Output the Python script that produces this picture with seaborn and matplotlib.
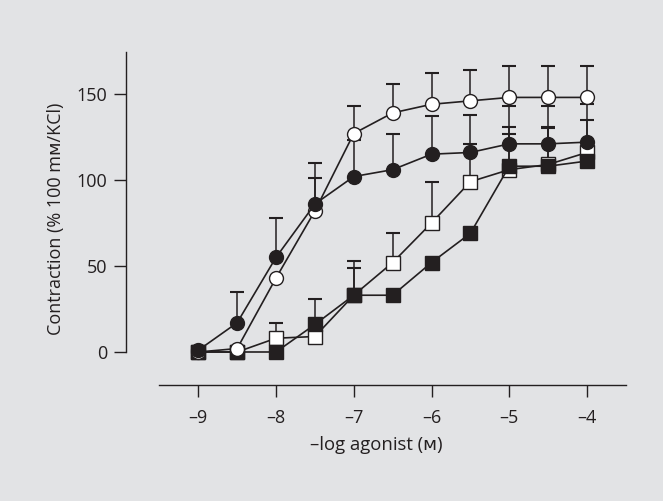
import matplotlib
matplotlib.use('Agg')
import matplotlib.pyplot as plt
import pandas as pd
import seaborn as sns

# Dados
log_conc = [-9, -8.5, -8, -7.5, -7, -6.5, -6, -5.5, -5, -4.5, -4]

open_circle = [0, 2, 43, 82, 127, 139, 144, 146, 148, 148, 148]
open_circle_err = [0, 0, 0, 19, 16, 17, 18, 18, 18, 18, 18]

filled_circle = [1, 17, 55, 86, 102, 106, 115, 116, 121, 121, 122]
filled_circle_err = [0, 18, 23, 24, 21, 21, 22, 22, 22, 22, 22]

open_square = [0, 0, 8, 9, 33, 52, 75, 99, 106, 109, 116]
open_square_err = [0, 0, 9, 0, 20, 17, 24, 22, 25, 22, 19]

filled_square = [0, 0, 0, 16, 33, 33, 52, 69, 108, 108, 111]
filled_square_err = [0, 0, 0, 15, 16, 0, 0, 0, 19, 22, 0]

bg = '#e2e3e5'
ink = '#231f20'

sns.set_style('ticks')
plt.rcParams['font.family'] = ['Open Sans', 'DejaVu Sans']

fig = plt.figure(figsize=(6.63, 5.01), dpi=100, facecolor=bg)
ax = fig.add_axes([0.190, 0.2315, 0.754, 0.6647])
ax.set_facecolor(bg)

# ordem de desenho: quadrado aberto, quadrado cheio, círculo aberto, círculo cheio
series = [
    (open_square, open_square_err, 's', 'white'),
    (filled_square, filled_square_err, 's', ink),
    (open_circle, open_circle_err, 'o', 'white'),
    (filled_circle, filled_circle_err, 'o', ink),
]

for i, (vals, err, marker, face) in enumerate(series):
    df = pd.DataFrame({'x': log_conc, 'y': vals})
    ax.errorbar(df['x'], df['y'], yerr=[[0] * len(err), err], fmt='none',
                ecolor=ink, elinewidth=1.1, capsize=5, capthick=1.5, zorder=2 + i)
    sns.lineplot(data=df, x='x', y='y', ax=ax, color=ink, linewidth=1.2,
                 marker=marker, markersize=10, markerfacecolor=face,
                 markeredgecolor=ink, markeredgewidth=1.0, zorder=6 + i)

ax.set_xlim(-9.93, -3.5)
ax.set_ylim(-19.2, 174.4)
ax.set_xticks([-9, -8, -7, -6, -5, -4])
ax.set_xticklabels(['\u20139', '\u20138', '\u20137', '\u20136', '\u20135', '\u20134'])
ax.set_yticks([0, 50, 100, 150])

for side in ['top', 'right']:
    ax.spines[side].set_visible(False)
ax.spines['bottom'].set_bounds(-9.5, -3.5)
ax.spines['left'].set_bounds(0, 174.4)
for side in ['bottom', 'left']:
    ax.spines[side].set_color(ink)
    ax.spines[side].set_linewidth(1.0)

ax.tick_params(axis='both', direction='out', length=8.4, width=1.0, color=ink,
               labelsize=13, labelcolor=ink, pad=5)
ax.tick_params(axis='x', pad=9)

ax.set_xlabel('\u2013log agonist (\u1d0d)', fontsize=13.3, color=ink, labelpad=6)
ax.set_ylabel('Contraction (% 100 m\u1d0d/KCl)', fontsize=13, color=ink, labelpad=8)

fig.savefig('out.png', dpi=100, facecolor=bg)
